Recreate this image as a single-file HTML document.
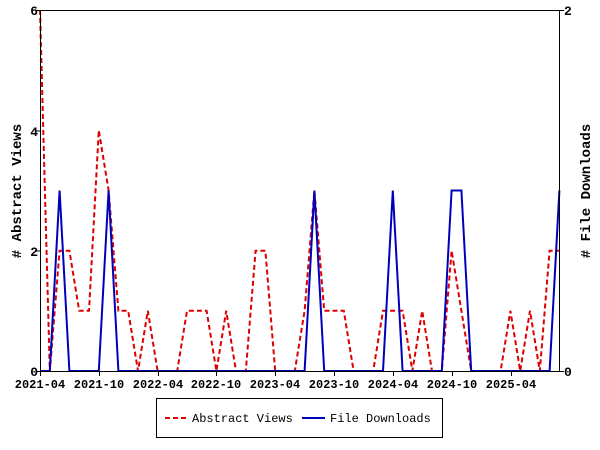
<!DOCTYPE html>
<html><head><meta charset="utf-8"><style>body{margin:0;background:#fff}svg{display:block}</style></head><body>
<svg width="600" height="450" xmlns="http://www.w3.org/2000/svg" font-family="Liberation Mono, DejaVu Sans Mono, monospace" font-weight="bold" font-size="13">
<rect width="600" height="450" fill="#fff"/>
<polyline fill="none" stroke="#d00" stroke-width="2" stroke-dasharray="5,3" points="40,10 49.8,371 59.6,250.7 69.4,250.7 79.2,310.8 89,310.8 98.8,130.3 108.6,190.5 118.4,310.8 128.2,310.8 138,371 147.8,310.8 157.6,371 167.4,371 177.2,371 187,310.8 196.8,310.8 206.6,310.8 216.4,371 226.2,310.8 236,371 245.8,371 255.6,250.7 265.4,250.7 275.2,371 285,371 294.8,371 304.6,310.8 314.4,190.5 324.2,310.8 334,310.8 343.8,310.8 353.6,371 363.4,371 373.2,371 383,310.8 392.8,310.8 402.6,310.8 412.4,371 422.2,310.8 432,371 441.8,371 451.6,250.7 461.4,310.8 471.2,371 481,371 490.8,371 500.6,371 510.4,310.8 520.2,371 530,310.8 539.8,371 549.6,250.7 559.4,250.7"/>
<polyline fill="none" stroke="#00b" stroke-width="2" points="40,371 49.8,371 59.6,190.5 69.4,371 98.8,371 108.6,190.5 118.4,371 304.6,371 314.4,190.5 324.2,371 383,371 392.8,190.5 402.6,371 441.8,371 451.6,190.5 461.4,190.5 471.2,371 549.6,371 559.4,190.5"/>
<rect x="40.5" y="10.5" width="519" height="361" fill="none" stroke="#000"/>
<g stroke="#000">
<line x1="36" y1="10.5" x2="40" y2="10.5"/><line x1="36" y1="131" x2="40" y2="131"/><line x1="36" y1="251" x2="40" y2="251"/><line x1="36" y1="371.5" x2="40" y2="371.5"/>
<line x1="560" y1="10.5" x2="564" y2="10.5"/><line x1="560" y1="371.5" x2="564" y2="371.5"/>
<line x1="40.5" y1="371" x2="40.5" y2="376"/><line x1="99.5" y1="371" x2="99.5" y2="376"/><line x1="158.5" y1="371" x2="158.5" y2="376"/><line x1="216.5" y1="371" x2="216.5" y2="376"/><line x1="275.5" y1="371" x2="275.5" y2="376"/><line x1="334.5" y1="371" x2="334.5" y2="376"/><line x1="393.5" y1="371" x2="393.5" y2="376"/><line x1="452.5" y1="371" x2="452.5" y2="376"/><line x1="511.5" y1="371" x2="511.5" y2="376"/>
</g>
<g text-anchor="end"><text x="38" y="15">6</text><text x="38" y="136">4</text><text x="38" y="256">2</text><text x="38" y="376">0</text></g>
<text x="564" y="15">2</text><text x="564" y="376">0</text>
<g text-anchor="middle" font-size="12">
<text x="40" y="388">2021-04</text><text x="99" y="388">2021-10</text><text x="158" y="388">2022-04</text><text x="216" y="388">2022-10</text><text x="275" y="388">2023-04</text><text x="334" y="388">2023-10</text><text x="393" y="388">2024-04</text><text x="452" y="388">2024-10</text><text x="511" y="388">2025-04</text>
</g>
<text transform="translate(21,191) rotate(-90)" text-anchor="middle" font-size="14">#  Abstract  Views</text>
<text transform="translate(590,191) rotate(-90)" text-anchor="middle" font-size="14">#  File  Downloads</text>
<rect x="156.5" y="398.5" width="286" height="39" fill="#fff" stroke="#000"/>
<line x1="165" y1="418" x2="188" y2="418" stroke="#d00" stroke-width="2" stroke-dasharray="5,3"/>
<text x="192" y="422" font-weight="normal" font-size="12">Abstract Views</text>
<line x1="302" y1="418" x2="325" y2="418" stroke="#00b" stroke-width="2"/>
<text x="330" y="422" font-weight="normal" font-size="12">File Downloads</text>
</svg>
</body></html>
